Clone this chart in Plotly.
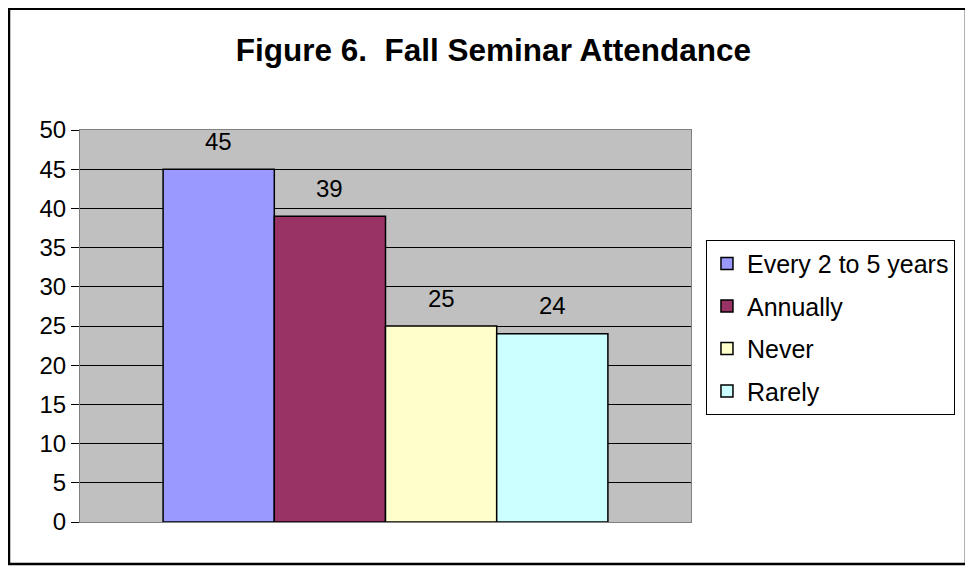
import plotly.graph_objects as go

# Données
categories = ["Every 2 to 5 years", "Annually", "Never", "Rarely"]
values = [45, 39, 25, 24]
colors = ["#9999FF", "#993366", "#FFFFCC", "#CCFFFF"]
group = ["Fall Seminar"]

FONT = "Arial, Liberation Sans, sans-serif"
BARGAP = 0.272

fig = go.Figure()
for name, val, col in zip(categories, values, colors):
    fig.add_trace(go.Bar(
        x=group, y=[val], name=name, legendgroup=name,
        marker=dict(color=col, line=dict(color="black", width=1.5)),
    ))

# étiquettes de valeurs au-dessus des barres (décalées comme dans Excel)
n = len(values)
w = (1 - BARGAP) / n
for i, val in enumerate(values):
    xc = -(1 - BARGAP) / 2 + w * (i + 0.5)
    fig.add_annotation(x=xc, y=val, xref="x", yref="y", text=str(val),
                       showarrow=False, yshift=28,
                       font=dict(family=FONT, size=24, color="black"))

# cadre extérieur du graphique
fig.add_shape(type="rect", xref="paper", yref="paper",
              x0=-0.1162, x1=1.450, y0=-0.107, y1=1.309,
              line=dict(color="black", width=2.5))

# la page ajoute une marge de 8 px : la figure fait 965x558
fig.update_layout(
    width=965, height=558,
    margin=dict(l=72, r=282, t=122, b=44, autoexpand=False),
    paper_bgcolor="white",
    plot_bgcolor="#C0C0C0",
    barmode="group",
    bargap=BARGAP,
    bargroupgap=0,
    font=dict(family=FONT, color="black"),
    title=dict(text="<b>Figure 6.  Fall Seminar Attendance</b>",
               x=0.503, xanchor="center", y=1 - 42 / 558, yanchor="middle",
               font=dict(family=FONT, size=31.5, color="black")),
    xaxis=dict(showticklabels=False, ticks="", showgrid=False,
               showline=True, mirror=True, linecolor="#808080", linewidth=1),
    yaxis=dict(range=[0, 50], dtick=5, tick0=0, ticks="outside", ticklen=8,
               tickcolor="black", tickwidth=1,
               showgrid=True, gridcolor="black", gridwidth=1, zeroline=False,
               showline=True, mirror=True, linecolor="#808080", linewidth=1,
               tickfont=dict(family=FONT, size=24, color="black")),
    legend=dict(x=1.0245, xanchor="left", y=0.497, yanchor="middle",
                bordercolor="black", borderwidth=1, bgcolor="white",
                font=dict(family=FONT, size=25, color="black"),
                tracegroupgap=7, itemwidth=30),
    showlegend=True,
)

fig.write_html("out.html")
